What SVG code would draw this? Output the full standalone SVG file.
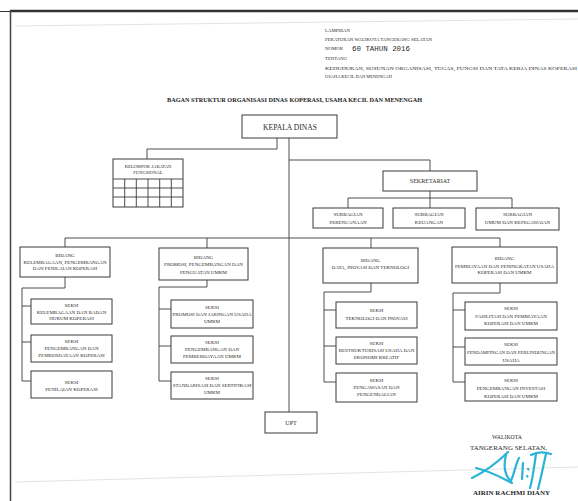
<svg xmlns="http://www.w3.org/2000/svg" width="578" height="501" viewBox="0 0 578 501">
<style>
.box{fill:#fff;stroke:#3a3a3a;stroke-width:1}
.ln{fill:none;stroke:#3a3a3a;stroke-width:0.9}
.t{font-family:"Liberation Serif",serif;font-size:5px;fill:#2a2a2a;text-anchor:middle}
.h{font-family:"Liberation Serif",serif;font-size:4.8px;fill:#2a2a2a}
.faint{fill:none;stroke:#dcdcdc;stroke-width:0.8}
.sig{fill:none;stroke:#2bb3d6;stroke-width:2.2;stroke-linecap:round;stroke-linejoin:round}
</style>
<rect x="0" y="0" width="578" height="501" fill="#fff"/>
<g id="frame">
<line x1="10" y1="11" x2="578" y2="11" stroke="#333" stroke-width="2.5"/>
<line x1="0" y1="11.5" x2="10" y2="11.5" stroke="#333" stroke-width="1"/>
<line x1="10.5" y1="10" x2="10.5" y2="501" stroke="#444" stroke-width="1.5"/>
<line class="faint" x1="15" y1="26" x2="578" y2="19"/>
<line class="faint" x1="15" y1="482" x2="578" y2="467"/>
</g>
<g id="header">
<text class="h" x="325" y="31.5">LAMPIRAN</text>
<text class="h" x="325" y="40.5" textLength="107" lengthAdjust="spacingAndGlyphs">PERATURAN WALIKOTA TANGERANG SELATAN</text>
<text class="h" x="325" y="50">NOMOR</text>
<text x="352" y="51" font-family="Liberation Mono, monospace" font-size="8" fill="#2a2a2a" textLength="58" lengthAdjust="spacingAndGlyphs">60 TAHUN 2016</text>
<text class="h" x="325" y="59.5">TENTANG</text>
<text class="h" x="325" y="69.5" textLength="252" lengthAdjust="spacingAndGlyphs">KEDUDUKAN, SUSUNAN ORGANISASI, TUGAS, FUNGSI DAN TATA KERJA  DINAS KOPERASI</text>
<text class="h" x="325" y="77.5" textLength="67" lengthAdjust="spacingAndGlyphs">USAHA KECIL DAN MENENGAH</text>
<text x="167" y="101.8" font-family="Liberation Serif, serif" font-size="5.4" font-weight="bold" fill="#222" textLength="255" lengthAdjust="spacingAndGlyphs">BAGAN STRUKTUR ORGANISASI DINAS KOPERASI, USAHA KECIL DAN MENENGAH</text>
</g>
<g id="connectors">
<polyline class="ln" points="277,138 277,149 147,149 147,159"/>
<line class="ln" x1="289" y1="138" x2="289" y2="412"/>
<polyline class="ln" points="289,160 430,160 430,171"/>
<line class="ln" x1="430" y1="191" x2="430" y2="208"/>
<polyline class="ln" points="348,208 348,198 512,198 512,208"/>
<polyline class="ln" points="65,247 65,238 500,238 500,247"/>
<line class="ln" x1="207" y1="238" x2="207" y2="248"/>
<line class="ln" x1="371" y1="238" x2="371" y2="248"/>
<polyline class="ln" points="65,277 65,288 22,288 22,381 31,381"/>
<line class="ln" x1="22" y1="306" x2="31" y2="306"/>
<line class="ln" x1="22" y1="342" x2="31" y2="342"/>
<polyline class="ln" points="207,280 207,287 159,287 159,381 171,381"/>
<line class="ln" x1="159" y1="309" x2="171" y2="309"/>
<line class="ln" x1="159" y1="346" x2="171" y2="346"/>
<polyline class="ln" points="371,283 371,292 324,292 324,382 336,382"/>
<line class="ln" x1="324" y1="310" x2="336" y2="310"/>
<line class="ln" x1="324" y1="346" x2="336" y2="346"/>
<polyline class="ln" points="500,283 500,293 453,293 453,382 465,382"/>
<line class="ln" x1="453" y1="310" x2="465" y2="310"/>
<line class="ln" x1="453" y1="347" x2="465" y2="347"/>
</g>
<g id="kepala-dinas">
<rect class="box" x="242" y="115" width="95" height="23"/>
<text class="t" x="290" y="129.5" font-size="7.6" style="font-size:7.6px">KEPALA DINAS</text>
</g>
<g id="kelompok-jabatan-fungsional">
<rect class="box" x="113" y="159" width="70" height="48"/>
<text class="t" x="148" y="167.6" style="font-size:4.6px">KELOMPOK JABATAN</text>
<text class="t" x="148" y="174" style="font-size:4.6px">FUNGSIONAL</text>
<path class="ln" d="M113,179H183M113,188H183M113,197H183M124.7,179V207M136.3,179V207M148,179V207M159.7,179V207M171.3,179V207"/>
</g>
<g id="sekretariat">
<rect class="box" x="383" y="171" width="94" height="20"/>
<text class="t" x="430" y="183.2" style="font-size:6.1px">SEKRETARIAT</text>
</g>
<g id="subbagian-perencanaan">
<rect class="box" x="313" y="208" width="70" height="20"/>
<text class="t" x="348" y="215.8">SUBBAGIAN</text>
<text class="t" x="348" y="223.8">PERENCANAAN</text>
</g>
<g id="subbagian-keuangan">
<rect class="box" x="393" y="208" width="72" height="20"/>
<text class="t" x="429" y="215.8">SUBBAGIAN</text>
<text class="t" x="429" y="223.8">KEUANGAN</text>
</g>
<g id="subbagian-umum">
<rect class="box" x="476" y="208" width="83" height="22"/>
<text class="t" x="517.5" y="215.8">SUBBAGIAN</text>
<text class="t" x="517.5" y="223.8">UMUM DAN KEPEGAWAIAN</text>
</g>
<g id="bidang-kelembagaan">
<rect class="box" x="20" y="247" width="90" height="30"/>
<text class="t" x="65" y="256.8">BIDANG</text>
<text class="t" x="65" y="263.8">KELEMBAGAAN, PENGEMBANGAN</text>
<text class="t" x="65" y="269.8">DAN PENILAIAN KOPERASI</text>
</g>
<g id="bidang-promosi">
<rect class="box" x="159" y="248" width="89" height="32"/>
<text class="t" x="203.5" y="258.5">BIDANG</text>
<text class="t" x="203.5" y="265.8">PROMOSI, PENGEMBANGAN DAN</text>
<text class="t" x="203.5" y="273.5">PENGUATAN UMKM</text>
</g>
<g id="bidang-data">
<rect class="box" x="323" y="248" width="95" height="35"/>
<text class="t" x="370.5" y="261.8">BIDANG</text>
<text class="t" x="370.5" y="269">DATA, INOVASI DAN TEKNOLOGI</text>
</g>
<g id="bidang-pembiayaan">
<rect class="box" x="452" y="247" width="105" height="36"/>
<text class="t" x="504.5" y="260">BIDANG</text>
<text class="t" x="504.5" y="267.5">PEMBIAYAAN DAN PENINGKATAN USAHA</text>
<text class="t" x="504.5" y="274">KOPERASI DAN UMKM</text>
</g>
<g id="seksi-kelembagaan">
<rect class="box" x="31" y="299" width="81" height="25"/>
<text class="t" x="71.5" y="306.8">SEKSI</text>
<text class="t" x="71.5" y="313.8">KELEMBAGAAN DAN BADAN</text>
<text class="t" x="71.5" y="319.8">HUKUM KOPERASI</text>
</g>
<g id="seksi-pengembangan-koperasi">
<rect class="box" x="31" y="335" width="81" height="27"/>
<text class="t" x="71.5" y="342.8">SEKSI</text>
<text class="t" x="71.5" y="349.8">PENGEMBANGAN DAN</text>
<text class="t" x="71.5" y="356.8">PEMBERDAYAAN KOPERASI</text>
</g>
<g id="seksi-penilaian">
<rect class="box" x="31" y="371" width="81" height="27"/>
<text class="t" x="71.5" y="383.8">SEKSI</text>
<text class="t" x="71.5" y="390.8">PENILAIAN KOPERASI</text>
</g>
<g id="seksi-promosi">
<rect class="box" x="171" y="300" width="82" height="28"/>
<text class="t" x="212" y="308.8">SEKSI</text>
<text class="t" x="212" y="315.8">PROMOSI DAN JARINGAN USAHA</text>
<text class="t" x="212" y="322.8">UMKM</text>
</g>
<g id="seksi-pengembangan-umkm">
<rect class="box" x="171" y="336" width="82" height="27"/>
<text class="t" x="212" y="343.8">SEKSI</text>
<text class="t" x="212" y="350.8">PENGEMBANGAN DAN</text>
<text class="t" x="212" y="357.8">PEMBERDAYAAN UMKM</text>
</g>
<g id="seksi-standarisasi">
<rect class="box" x="171" y="372" width="82" height="27"/>
<text class="t" x="212" y="379.8">SEKSI</text>
<text class="t" x="212" y="386.8">STANDARISASI DAN SERTIFIKASI</text>
<text class="t" x="212" y="393.8">UMKM</text>
</g>
<g id="seksi-teknologi">
<rect class="box" x="336" y="302" width="81" height="26"/>
<text class="t" x="376.5" y="311.8">SEKSI</text>
<text class="t" x="376.5" y="320">TEKNOLOGI DAN INOVASI</text>
</g>
<g id="seksi-restrukturisasi">
<rect class="box" x="336" y="337" width="81" height="27"/>
<text class="t" x="376.5" y="344.8">SEKSI</text>
<text class="t" x="376.5" y="351.8">RESTRUKTURISASI USAHA DAN</text>
<text class="t" x="376.5" y="358.8">EKONOMI KREATIF</text>
</g>
<g id="seksi-pengawasan">
<rect class="box" x="336" y="373" width="81" height="29"/>
<text class="t" x="376.5" y="381.8">SEKSI</text>
<text class="t" x="376.5" y="388.8">PENGAWASAN DAN</text>
<text class="t" x="376.5" y="395.8">PENGENDALIAN</text>
</g>
<g id="seksi-fasilitasi">
<rect class="box" x="465" y="302" width="92" height="28"/>
<text class="t" x="511" y="309.8">SEKSI</text>
<text class="t" x="511" y="317.8">FASILITASI DAN PEMBIAYAAN</text>
<text class="t" x="511" y="324.8">KOPERASI DAN UMKM</text>
</g>
<g id="seksi-pendampingan">
<rect class="box" x="465" y="338" width="92" height="27"/>
<text class="t" x="511" y="345.8">SEKSI</text>
<text class="t" x="511" y="353.8" textLength="88" lengthAdjust="spacingAndGlyphs">PENDAMPINGAN DAN PERLINDUNGAN</text>
<text class="t" x="511" y="361.8">USAHA</text>
</g>
<g id="seksi-investasi">
<rect class="box" x="465" y="373" width="92" height="28"/>
<text class="t" x="511" y="381.8">SEKSI</text>
<text class="t" x="511" y="389.8">PENGEMBANGAN INVESTASI</text>
<text class="t" x="511" y="397.8">KOPERASI DAN UMKM</text>
</g>
<g id="upt">
<rect class="box" x="265" y="412" width="52" height="21"/>
<text class="t" x="291" y="425" style="font-size:6px">UPT</text>
</g>
<g id="signature">
<text x="507" y="439" font-family="Liberation Serif, serif" font-size="5.8" fill="#2a2a2a" text-anchor="middle">WALIKOTA</text>
<text x="508.5" y="450" font-family="Liberation Serif, serif" font-size="6.5" fill="#2a2a2a" text-anchor="middle" textLength="77" lengthAdjust="spacingAndGlyphs">TANGERANG SELATAN,</text>
<path class="sig" d="M472,478 C484,472 497,463 508,452"/>
<path class="sig" d="M476,468 C490,471 500,477 512,483"/>
<path class="sig" d="M506,455 C503,466 505,476 511,481 C515,471 516,463 519,458"/>
<path class="sig" d="M523,463 L522,479"/>
<path class="sig" d="M528,469 l0.5,0.5"/>
<path class="sig" d="M527,476 l0.5,0.5"/>
<path class="sig" d="M531,455 C537,452 545,452 551,454"/>
<path class="sig" d="M536,454 C534,467 533,478 530,488"/>
<path class="sig" d="M546,454 C543,467 541,478 538,489"/>
<text x="511.5" y="495" font-family="Liberation Serif, serif" font-size="6.2" font-weight="bold" fill="#1f1f1f" text-anchor="middle" textLength="77" lengthAdjust="spacingAndGlyphs">AIRIN RACHMI DIANY</text>
</g>
</svg>
